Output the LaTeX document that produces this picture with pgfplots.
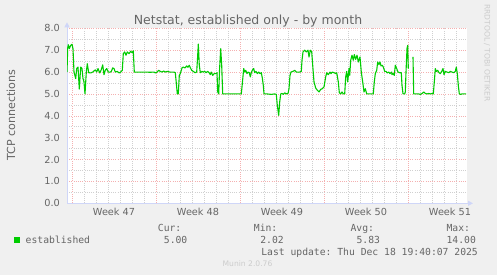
\documentclass[border=0pt]{standalone}
\usepackage{fontspec}
\setmainfont{DejaVu Sans}
\setmonofont{DejaVu Sans Mono}
\usepackage{pgfplots}
\pgfplotsset{compat=1.18}
\usetikzlibrary{arrows.meta}
\definecolor{bg}{HTML}{F0F0F0}
\definecolor{fontc}{HTML}{666666}
\definecolor{axisc}{HTML}{CFD6F8}
\definecolor{mgrid}{HTML}{F4B0B0}
\definecolor{gridc}{HTML}{D0D0D0}
\definecolor{lineg}{HTML}{00CC00}
\definecolor{wm}{HTML}{CCCCCC}

\pgfplotstableread{
x y
67 6.0
67.7 7.1
68.3 7.25
69.3 7.07
70.7 7.22
72 7.27
73 7.07
74 6.0
75.7 5.7
76.7 6.16
78 6.23
79.3 5.22
80.7 6.23
82 6.16
83 5.7
84 5.55
85 5.0
86.3 6.0
87.3 6.38
88.7 5.97
90.7 5.96
92.7 6.0
94 6.05
95.3 6.1
96.7 6.0
98 6.16
99.7 5.96
101.3 6.11
102.7 6.33
104 5.88
105.3 6.08
106.7 6.16
108.3 6.0
110.3 6.0
111.3 6.03
112.7 6.19
114 6.16
115.3 6.0
117.3 6.03
119 5.96
120.7 6.0
122.3 6.08
123.3 6.84
124.7 6.92
126 6.77
127.3 6.92
129 6.84
130.7 6.95
132 6.89
133.3 6.97
134.3 6.0
136 6.0
140 6.0
146 6.0
150 5.99
154 6.0
155.3 5.96
157 6.0
158.7 6.08
160.3 6.03
162 6.0
163.7 6.05
165.3 6.0
167 6.03
170 6.0
174 6.0
175.3 5.97
176.5 5.4
177.3 5.0
178.3 5.0
179.3 5.85
180.3 5.93
182 6.19
183.3 6.23
185 6.19
186.7 6.28
188 6.22
189.3 6.31
190.3 6.2
191.7 6.08
193.3 6.03
195 5.97
196.7 6.0
197.7 6.77
198.3 7.28
199.3 6.31
200.3 5.97
202 6.03
203.3 6.0
204.7 6.03
206 5.97
207.7 6.03
209.3 5.96
210.3 5.88
211.3 6.0
212.7 5.85
214.3 5.93
216 5.93
217 5.97
217.7 5.1
218.7 5.0
219.6 6.16
220.7 7.07
221.7 6.3
222.7 5.0
226 5.0
230 5.0
234 5.0
241.3 5.0
242.3 5.47
243.7 6.16
244.7 6.0
245.7 6.08
247 5.93
248 6.0
249.3 5.97
250.3 5.78
251.3 5.97
252.3 6.08
253.7 6.16
254.7 5.97
256 6.03
257.3 5.93
258.7 6.0
260 5.93
261.3 5.97
262.3 5.73
263.3 5.39
264 5.0
267 5.0
271.3 4.98
274.7 5.0
276.3 4.98
277.3 4.48
278.7 4.02
279.7 4.63
280.7 5.0
282 5.02
283.3 4.98
284.7 5.05
286.3 5.0
288 5.02
289 5.24
290 5.85
291 6.0
293 6.03
294.7 6.08
296.3 6.0
298 6.0
299.7 6.0
301.3 6.03
302 6.54
303 6.92
304.7 7.0
306.3 6.92
308 7.0
309 6.69
310.3 7.0
311.7 6.92
312.7 6.31
314 5.55
315.7 5.27
317.3 5.17
319 5.09
320.7 5.21
322.3 5.24
324 5.32
325.7 5.78
326.7 5.97
328.3 5.88
330 6.0
331 5.93
332.3 6.0
334 5.97
335.7 5.93
336.7 5.97
338.3 5.55
339.3 5.06
340.7 5.0
342 5.09
343.3 5.0
344.7 5.01
345.7 5.78
346.7 6.03
347.7 5.55
349 6.16
349.7 5.85
350.7 6.54
352 6.77
353.3 6.54
354.3 6.8
355.7 6.58
357 6.77
358.3 6.46
360 6.69
361.3 6.0
362.7 5.55
364 5.09
365.3 5.24
366.7 5.0
370 5.0
373.3 5.0
374.3 5.55
375.3 5.93
376.7 6.08
377.7 6.46
379 6.34
380 6.46
381 6.28
382.3 6.31
383.3 6.23
384.7 6.03
386 6.03
387.3 5.96
388.7 6.0
390 5.93
391.7 6.0
392 5.88
393 5.93
394.3 5.85
395.3 6.31
396.7 6.16
398 6.0
399.7 5.97
401.3 5.97
402 5.39
403 5.01
404.7 5.0
405.3 5.09
406 6.0
407 7.07
407.7 7.22
408.3 6.16
410 nan
413 6.69
413.7 5.0
415 5.0
418.7 5.0
420.3 4.98
422 5.02
423.7 5.09
425.3 5.02
427 5.0
428.7 5.02
430.3 5.0
432 5.02
433.3 5.0
434.3 5.55
435.3 6.16
436.3 6.03
437.7 6.08
439 5.97
440.3 5.93
441.7 6.03
443 6.16
444 5.88
445.3 6.03
447 6.0
448.7 5.97
450.3 6.03
452 6.0
453.7 5.97
455.3 6.03
456.3 6.23
457.3 5.93
458.3 5.39
459.3 5.01
460.3 4.98
462 5.0
464 5.0
466 5.0
}\established

\begin{document}
\begin{tikzpicture}[x=1bp,y=1bp]
\fill[bg] (0,0) rectangle (497,275);
\begin{axis}[
  at={(67bp,71.7bp)}, anchor=south west,
  scale only axis, width=400bp, height=175bp,
  xmin=67, xmax=467, ymin=0, ymax=8,
  axis background/.style={fill=white},
  axis lines*=left,
  axis line style={draw=axisc, line width=1bp},
  x axis line style={-{Triangle[length=5bp,width=5bp]}, shorten >=-6bp},
  y axis line style={-{Triangle[length=5bp,width=5bp]}, shorten >=-6bp},
  tick style={draw=none},
  ytick={0,1,...,8},
  minor ytick={0.5,1.5,...,7.5},
  xtick={114,198,282,366,450},
  xticklabels={Week 47,Week 48,Week 49,Week 50,Week 51},
  minor xtick={84,96,108,120,132,144,168,180,192,204,216,228,252,264,276,288,300,312,336,348,360,372,384,396,420,432,444,456},
  extra x ticks={72,156,240,324,408},
  extra x tick labels={},
  extra x tick style={grid=major},
  ymajorgrids, yminorgrids, xminorgrids,
  major grid style={draw=mgrid, dash pattern=on 1bp off 1.2bp, line width=0.6bp},
  minor grid style={draw=gridc, dash pattern=on 1bp off 1.2bp, line width=0.6bp},
  ticklabel style={font=\fontsize{9.72bp}{11bp}\selectfont, text=fontc},
  yticklabel style={anchor=east, inner sep=0pt, xshift=-7bp},
  xticklabel style={anchor=base, inner sep=0pt, yshift=-12.2bp},
  /pgf/number format/.cd, fixed, fixed zerofill, precision=1, assume math mode=true,
  /pgfplots/.cd,
  unbounded coords=jump,
]
\addplot[lineg, line width=1.1bp, line join=round] table[x=x,y=y] {\established};
\end{axis}
% title
\node[anchor=base, inner sep=0pt, text=fontc, font=\fontsize{12.5bp}{14bp}\selectfont] at (248,251) {Netstat, established only - by month};
% y label
\node[anchor=base, rotate=90, inner sep=0pt, text=fontc, font=\fontsize{11.1bp}{13bp}\selectfont] at (15,160) {TCP connections};
% watermark right
\node[anchor=base, rotate=-90, inner sep=0pt, text=wm, font=\fontsize{7.6bp}{9bp}\selectfont] at (484.5,222) {RRDTOOL / TOBI OETIKER};
% legend
\fill[lineg] (14,32.3) rectangle (20,38.3);
\begin{scope}[every node/.style={anchor=base west, inner sep=0pt, text=fontc, font=\ttfamily\fontsize{9.72bp}{11bp}\selectfont}]
\node at (25.5,32) {established};
\node at (157.7,43.5) {Cur:};
\node at (163.7,32) {5.00};
\node at (253.7,43.5) {Min:};
\node at (260.1,32) {2.02};
\node at (350.4,43.5) {Avg:};
\node at (356.4,32) {5.83};
\node at (446.4,43.5) {Max:};
\node at (446.4,32) {14.00};
\node at (261.1,20) {Last update: Thu Dec 18 19:40:07 2025};
\end{scope}
\node[anchor=base, inner sep=0pt, text=wm, font=\fontsize{7.6bp}{9bp}\selectfont] at (247.5,8.5) {Munin 2.0.76};
\pgfresetboundingbox
\path[use as bounding box] (0,0) rectangle (497,275);
\end{tikzpicture}
\end{document}
